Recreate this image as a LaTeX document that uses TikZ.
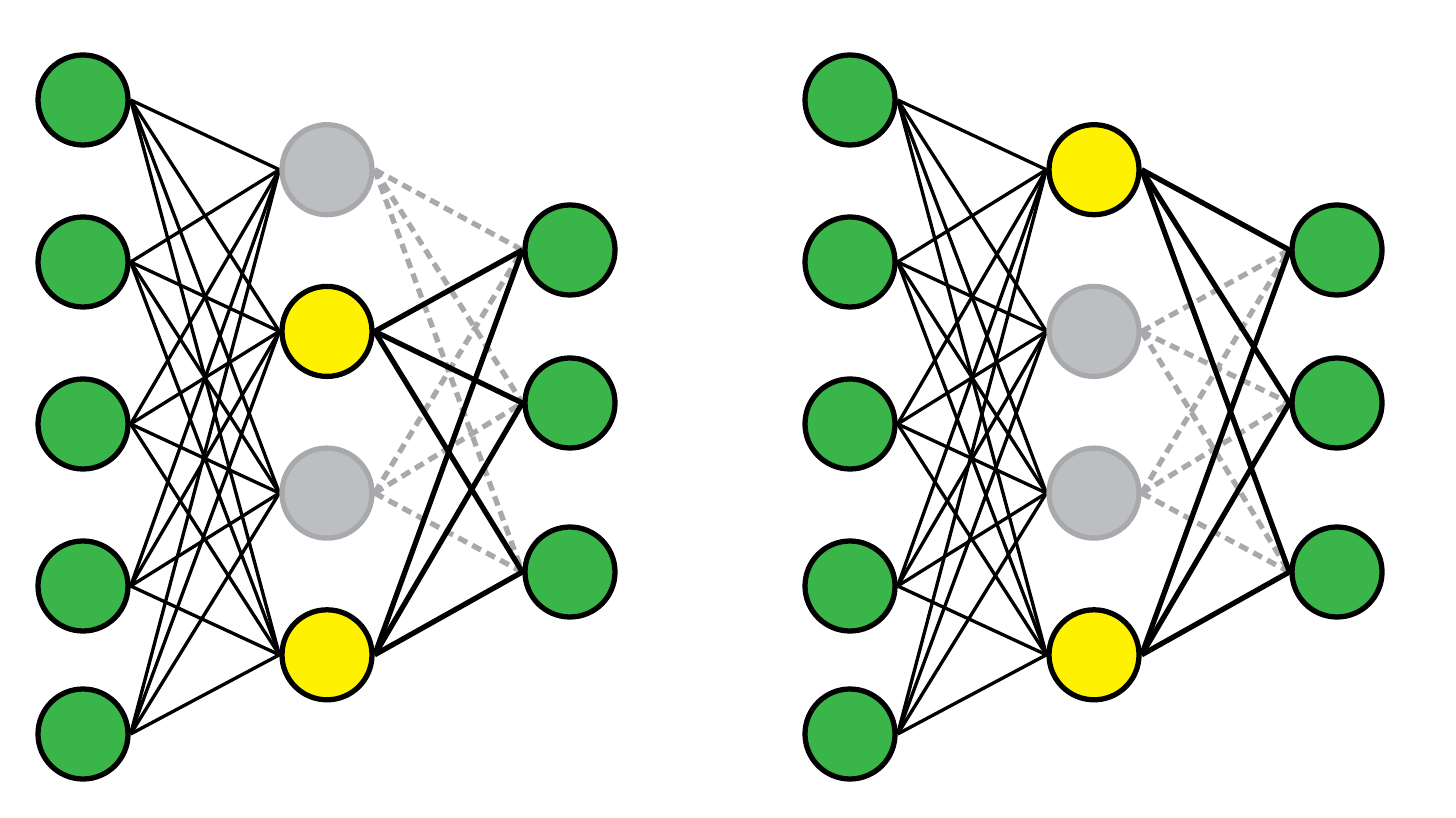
\documentclass[tikz,border=0pt]{standalone}
\usetikzlibrary{backgrounds}

\definecolor{unitgreen}{RGB}{58,181,74}
\definecolor{unityellow}{RGB}{255,242,0}
\definecolor{dropfill}{RGB}{188,190,192}
\definecolor{dropline}{RGB}{167,169,172}

\tikzset{
  unit/.style={circle, line width=1.5pt, minimum size=0.9cm, inner sep=0pt},
  greenunit/.style={unit, draw=black, fill=unitgreen},
  kept/.style={unit, draw=black, fill=unityellow},
  dropped/.style={unit, draw=dropline, fill=dropfill},
  inwire/.style={black, line width=0.95pt},
  keptwire/.style={black, line width=1.5pt},
  dropwire/.style={dropline, line width=1.5pt, dash pattern=on 2.8pt off 1.7pt}
}

\begin{document}
\begin{tikzpicture}
\useasboundingbox (0,0) rectangle (14.56,8.17);

% input and output layers of both nets
\foreach \net/\dx in {L/0, R/7.67} {
  \foreach \y [count=\i] in {7.17,5.55,3.93,2.31,0.83}
    \node[greenunit] (\net-in-\i) at (0.83+\dx,\y) {};
  \foreach \y [count=\i] in {5.67,4.14,2.45}
    \node[greenunit] (\net-out-\i) at (5.70+\dx,\y) {};
}

% hidden layers (dropped units in gray)
\foreach \kind [count=\j] in {dropped,kept,dropped,kept}
  \node[\kind] (L-hid-\j) at (3.27,{8.09-1.617*\j}) {};
\foreach \kind [count=\j] in {kept,dropped,dropped,kept}
  \node[\kind] (R-hid-\j) at (10.94,{8.09-1.617*\j}) {};

\begin{scope}[on background layer]
  \foreach \net in {L,R}
    \foreach \i in {1,...,5}
      \foreach \j in {1,...,4}
        \draw[inwire] (\net-in-\i.east) -- (\net-hid-\j.west);
  % dashed first, so the black wires lie on top
  \foreach \net/\j/\wire in {L/1/dropwire, L/3/dropwire, R/2/dropwire, R/3/dropwire,
                             L/2/keptwire, L/4/keptwire, R/1/keptwire, R/4/keptwire}
    \foreach \k in {1,2,3}
      \draw[\wire] (\net-hid-\j.east) -- (\net-out-\k.west);
\end{scope}
\end{tikzpicture}
\end{document}
